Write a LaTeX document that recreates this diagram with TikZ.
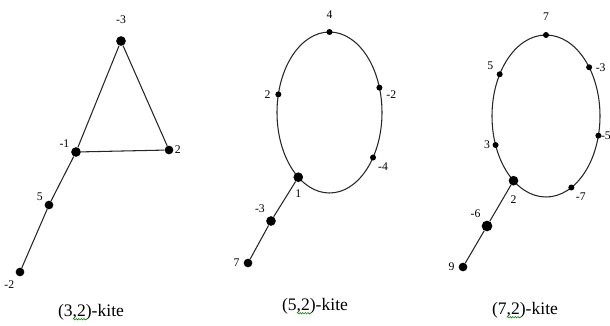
\documentclass[tikz,border=0pt]{standalone}
\usepackage{fontspec}
\setmainfont{Liberation Serif}
\usetikzlibrary{calc, decorations.pathmorphing}

\begin{document}
\begin{tikzpicture}[
  x=0.03cm, y=0.03cm,
  vtx/.style={circle, fill=black, draw=none, inner sep=0pt, minimum size=0.29cm},
  sml/.style={vtx, minimum size=0.18cm},
  every label/.style={font=\fontsize{10}{12}\selectfont, inner sep=1pt},
  edge/.style={line width=0.9pt, black!85},
  title/.style={font=\fontsize{15}{18}\selectfont, inner sep=0pt},
  squig/.style={green!55!black, line width=0.5pt, decorate,
    decoration={snake, segment length=2.2pt, amplitude=0.6pt}}
]
\useasboundingbox (0,0) rectangle (610,325);

% ============ (3,2)-kite ============
\node[vtx, label={[label distance=0.33cm]90:-3}] (a1) at (121,284) {};
\node[vtx, label={[label distance=0.3mm]150:-1}] (a2) at (76,173) {};
\node[vtx, minimum size=0.26cm, label={[label distance=0pt]0:2}] (a3) at (169,175) {};
\node[vtx, minimum size=0.26cm, label={[label distance=0.3mm]150:5}] (a4) at (49,120) {};
\node[vtx, minimum size=0.26cm, label={[label distance=0.13cm]240:-2}] (a5) at (20,53) {};
\draw[edge] (a1) -- (a3) -- (a2) -- (a1);
\draw[edge] (a2) -- (a4) -- (a5);
\node[title] (t32) at (91,13) {(3,2)-kite};
\draw[squig] ($(t32.base west)+(15,-3)$) -- ++(14,0);

% ============ (5,2)-kite ============
\coordinate (o5) at (329.5,212.5);
\draw[edge] (o5) ellipse [x radius=1.575cm, y radius=2.415cm];
\node[sml, label={[label distance=0.26cm]90:4}] (b1) at ($(o5)+(90:1.575cm and 2.415cm)$) {};
\node[sml, label={[label distance=0.1cm]180:2}] (b2) at ($(o5)+(167:1.575cm and 2.415cm)$) {};
\node[sml, label={[label distance=0.08cm]-20:-2}] (b3) at ($(o5)+(18:1.575cm and 2.415cm)$) {};
\node[sml, label={[label distance=0.06cm]-45:-4}] (b4) at ($(o5)+(-34:1.575cm and 2.415cm)$) {};
\node[vtx, label={[label distance=0.18cm]-90:1}] (b5) at ($(o5)+(233.5:1.575cm and 2.415cm)$) {};
\node[vtx, label={[label distance=0.1cm]125:-3}] (b6) at (271,104) {};
\node[vtx, minimum size=0.26cm, label={[label distance=0.08cm]180:7}] (b7) at (248,62) {};
\draw[edge] (b5) -- (b6) -- (b7);
\node[title] (t52) at (315,19) {(5,2)-kite};
\draw[squig] ($(t52.base west)+(15,-3)$) -- ++(14,0);

% ============ (7,2)-kite ============
\coordinate (o7) at (546,209);
\draw[edge] (o7) ellipse [x radius=1.62cm, y radius=2.43cm];
\node[sml, label={[label distance=0.3cm]90:7}] (c1) at ($(o7)+(90:1.62cm and 2.43cm)$) {};
\node[sml, label={[label distance=0.08cm]150:5}] (c2) at ($(o7)+(149:1.62cm and 2.43cm)$) {};
\node[sml, label={[label distance=0.06cm]0:-3}] (c3) at ($(o7)+(37:1.62cm and 2.43cm)$) {};
\node[sml, label={[label distance=-0.06cm]0:-5}] (c4) at ($(o7)+(-14:1.62cm and 2.43cm)$) {};
\node[sml, label={[label distance=0.03cm]180:3}] (c5) at ($(o7)+(201:1.62cm and 2.43cm)$) {};
\node[sml, label={[label distance=0.05cm]-50:-7}] (c6) at ($(o7)+(-62:1.62cm and 2.43cm)$) {};
\node[vtx, label={[label distance=0.26cm]-90:2}] (c7) at ($(o7)+(233:1.62cm and 2.43cm)$) {};
\node[vtx, minimum size=0.32cm, label={[label distance=0.1cm]125:-6}] (c8) at (487,99) {};
\node[vtx, minimum size=0.26cm, label={[label distance=0.08cm]180:9}] (c9) at (463,58) {};
\draw[edge] (c7) -- (c8) -- (c9);
\node[title] (t72) at (525,15) {(7,2)-kite};
\draw[squig] ($(t72.base west)+(15,-3)$) -- ++(14,0);

\end{tikzpicture}
\end{document}
